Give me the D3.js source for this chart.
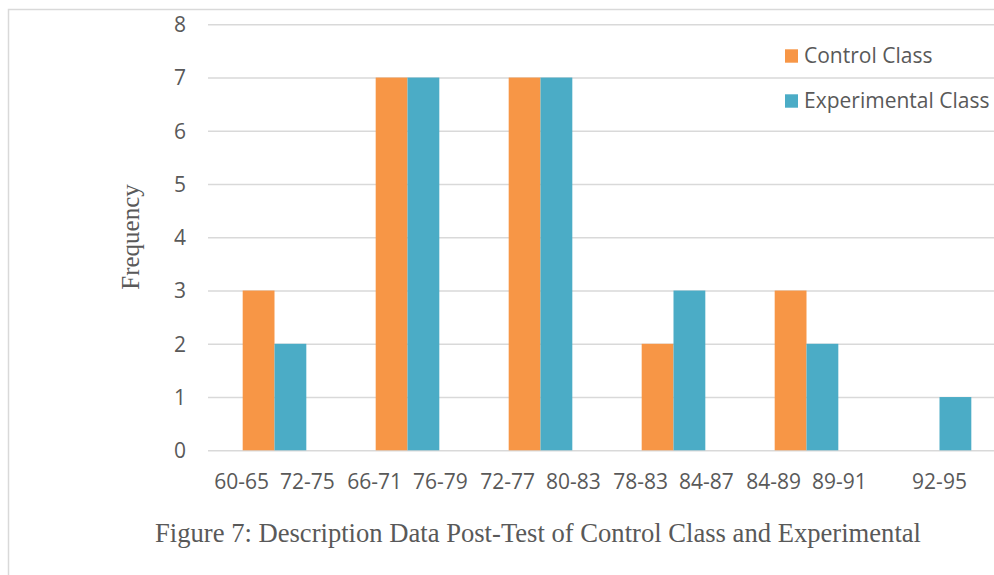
<!DOCTYPE html>
<html>
<head>
<meta charset="utf-8">
<script src="https://cdn.jsdelivr.net/npm/d3@7"></script>
<style>
  html, body { margin: 0; padding: 0; background: #ffffff; }
  svg { display: block; overflow: hidden; }
  .tick-label { font-family: "Open Sans", sans-serif; font-size: 21px; fill: #595959; }
</style>
</head>
<body>
<svg id="chart" width="994" height="575"></svg>
<script>
// Score ranges under each bar and frequencies per class
const controlRanges      = ["60-65", "66-71", "72-77", "78-83", "84-89", ""];
const experimentalRanges = ["72-75", "76-79", "80-83", "84-87", "89-91", "92-95"];
const controlFreq        = [3, 7, 7, 2, 3, 0];
const experimentalFreq   = [2, 7, 7, 3, 2, 1];
const seriesNames        = ["Control Class", "Experimental Class"];
const seriesColors       = ["#F79646", "#4BACC6"];
const yTicks             = [0, 1, 2, 3, 4, 5, 6, 7, 8];
const yLabel             = "Frequency";
const caption            = "Figure 7: Description Data Post-Test of Control Class and Experimental";

// Group keys built from the range labels
const groups = controlRanges.map((c, i) => [c, experimentalRanges[i]].filter(s => s).join("\u00a0\u00a0"));

const rows = groups.map((g, i) => ({
  group: g,
  values: [
    { series: seriesNames[0], value: controlFreq[i] },
    { series: seriesNames[1], value: experimentalFreq[i] }
  ]
}));

const svg = d3.select("#chart");

// outer frame
svg.append("rect")
  .attr("x", 8.5).attr("y", 9.5)
  .attr("width", 1000).attr("height", 600)
  .attr("fill", "none").attr("stroke", "#d9d9d9").attr("stroke-width", 1.5);

const plotLeft = 208, plotRight = 1006;
const x0 = d3.scaleBand().domain(groups).range([plotLeft, plotRight]).paddingInner(0).paddingOuter(0);
const x1 = d3.scaleBand().domain(seriesNames).range([0, x0.bandwidth()]).paddingInner(0).paddingOuter(1.09);
const y = d3.scaleLinear().domain([0, 8]).range([450.3, 24.3]);
const color = d3.scaleOrdinal().domain(seriesNames).range(seriesColors);

// horizontal gridlines + y labels
const yAxis = d3.axisLeft(y).tickValues(yTicks).tickSize(-(plotRight - plotLeft + 20)).tickPadding(22).tickFormat(d3.format("d"));
const gy = svg.append("g").attr("transform", `translate(${plotLeft},0)`).call(yAxis);
gy.select(".domain").remove();
gy.selectAll(".tick line").attr("stroke", "#d9d9d9").attr("stroke-width", 1.5);
gy.selectAll(".tick text").attr("class", "tick-label").attr("dy", "0.35em");

// bars
const gGroups = svg.append("g").selectAll("g")
  .data(rows).join("g")
  .attr("transform", d => `translate(${x0(d.group)},0)`);

gGroups.selectAll("rect")
  .data(d => d.values).join("rect")
  .attr("x", d => x1(d.series))
  .attr("width", x1.bandwidth())
  .attr("y", d => y(d.value))
  .attr("height", d => y(0) - y(d.value))
  .attr("fill", d => color(d.series));

// category labels
const xAxis = d3.axisBottom(x0).tickSize(0).tickPadding(0);
const gx = svg.append("g").attr("transform", `translate(0,${y(0)})`).call(xAxis);
gx.select(".domain").remove();
gx.selectAll(".tick text")
  .attr("class", "tick-label")
  .attr("y", 31).attr("dy", "0.35em");

// y axis title
svg.append("text")
  .attr("transform", "translate(139,237) rotate(-90)")
  .attr("text-anchor", "middle")
  .attr("font-family", "'Liberation Serif', 'Times New Roman', serif")
  .attr("font-size", 25)
  .attr("fill", "#595959")
  .text(yLabel);

// legend
const legend = svg.append("g").selectAll("g")
  .data(seriesNames).join("g")
  .attr("transform", (d, i) => `translate(785,${56 + i * 45})`);
legend.append("rect")
  .attr("x", 0).attr("y", -6.7).attr("width", 13).attr("height", 13.4)
  .attr("fill", d => color(d));
legend.append("text")
  .attr("class", "tick-label")
  .attr("x", 19).attr("dy", "0.35em")
  .text(d => d);

// caption
svg.append("text")
  .attr("x", 155).attr("y", 541.5)
  .attr("font-family", "'Liberation Serif', 'Times New Roman', serif")
  .attr("font-size", 27.5)
  .attr("textLength", 766)
  .attr("lengthAdjust", "spacingAndGlyphs")
  .attr("fill", "#595959")
  .text(caption);
</script>
</body>
</html>
